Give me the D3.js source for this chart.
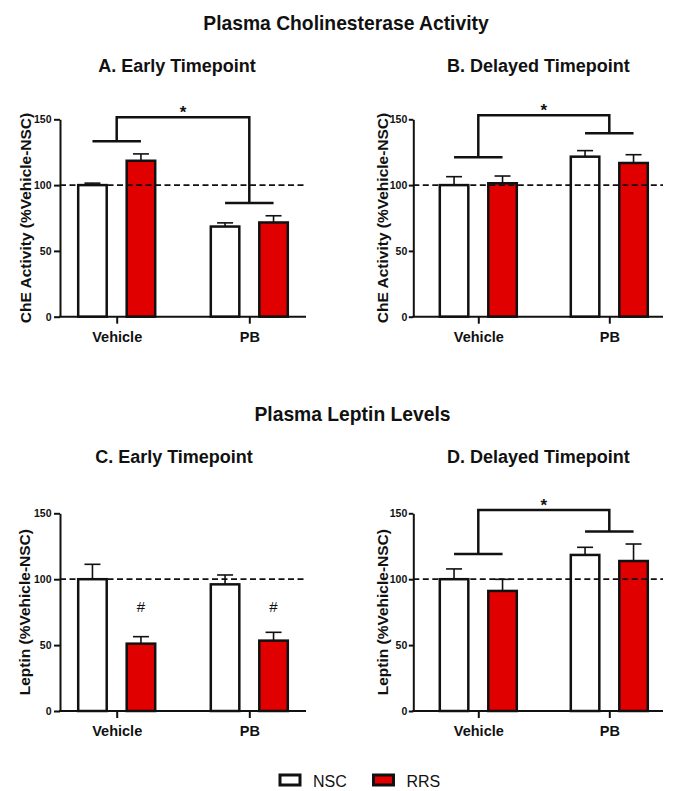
<!DOCTYPE html>
<html><head><meta charset="utf-8">
<script src="https://cdn.jsdelivr.net/npm/d3@7"></script>
<style>
body{margin:0;background:#fff}
text{font-family:"Liberation Sans",Arial,Helvetica,sans-serif;fill:#111}
</style>
</head><body>
<svg id="chart" width="674" height="791"></svg>
<script>
// ---------- data ----------
const categories = ["Vehicle", "PB"];
const groups = ["NSC", "RRS"];
const yTicks = [0, 50, 100, 150];
const refValue = 100;
const sectionTitles = ["Plasma Cholinesterase Activity", "Plasma Leptin Levels"];
const panelTitles = ["A. Early Timepoint", "B. Delayed Timepoint", "C. Early Timepoint", "D. Delayed Timepoint"];
const yLabels = ["ChE Activity (%Vehicle-NSC)", "ChE Activity (%Vehicle-NSC)", "Leptin (%Vehicle-NSC)", "Leptin (%Vehicle-NSC)"];
const legendLabels = ["NSC", "RRS"];

// means and SEM (upper error) per category [Vehicle, PB]
const cheEarlyNSC = [100, 68.5],   cheEarlyNSCsem = [1.5, 2.8];
const cheEarlyRRS = [118.5, 71.6], cheEarlyRRSsem = [5.2, 5.1];
const cheDelayNSC = [100, 121.6],  cheDelayNSCsem = [6.4, 4.6];
const cheDelayRRS = [101.4, 116.8],cheDelayRRSsem = [5.5, 6.3];
const lepEarlyNSC = [100, 96.1],   lepEarlyNSCsem = [11.3, 7.1];
const lepEarlyRRS = [51.1, 53.4],  lepEarlyRRSsem = [5.3, 6.3];
const lepDelayNSC = [100, 118.4],  lepDelayNSCsem = [7.8, 5.8];
const lepDelayRRS = [91.1, 113.8], lepDelayRRSsem = [8.8, 12.9];

// significance brackets: group-level heights [Vehicle, PB], top bar height, symbol
const bracketA = {levels: [133.3, 86.4], top: 151.5, mark: "*"};
const bracketB = {levels: [121.1, 139.4], top: 153, mark: "*"};
const bracketD = {levels: [119.1, 136.1], top: 152.5, mark: "*"};
// "#" marks above RRS bars in panel C
const hashC = {group: "RRS", cats: ["Vehicle", "PB"], value: 75, mark: "#"};

// ---------- layout ----------
const colors = {NSC: "#ffffff", RRS: "#e00000"};
const panels = [
  {title: panelTitles[0], ylab: yLabels[0], nsc: cheEarlyNSC, nscSem: cheEarlyNSCsem, rrs: cheEarlyRRS, rrsSem: cheEarlyRRSsem, bracket: bracketA, hash: null,
   x0: 60, x1: 306, c0: 116.7, c1: 249.3, yTop: 119.3, yBot: 316.7, tx: 177, ty: 71.5, lx: 25, tk: 6, tp: 2.5},
  {title: panelTitles[1], ylab: yLabels[1], nsc: cheDelayNSC, nscSem: cheDelayNSCsem, rrs: cheDelayRRS, rrsSem: cheDelayRRSsem, bracket: bracketB, hash: null,
   x0: 413.3, x1: 663, c0: 478.3, c1: 609.3, yTop: 119.3, yBot: 316.7, tx: 538.3, ty: 71.5, lx: 382.5, tk: 4.5, tp: 1.5},
  {title: panelTitles[2], ylab: yLabels[2], nsc: lepEarlyNSC, nscSem: lepEarlyNSCsem, rrs: lepEarlyRRS, rrsSem: lepEarlyRRSsem, bracket: null, hash: hashC,
   x0: 60, x1: 306, c0: 116.7, c1: 249.3, yTop: 513.3, yBot: 711, tx: 174, ty: 463.3, lx: 24.5, tk: 6, tp: 2.5},
  {title: panelTitles[3], ylab: yLabels[3], nsc: lepDelayNSC, nscSem: lepDelayNSCsem, rrs: lepDelayRRS, rrsSem: lepDelayRRSsem, bracket: bracketD, hash: null,
   x0: 413.3, x1: 663, c0: 478.3, c1: 609.3, yTop: 513.3, yBot: 711, tx: 538.3, ty: 463.3, lx: 382.5, tk: 4.5, tp: 1.5}
];

const svg = d3.select("#chart");

// section titles
svg.append("text").attr("x", 346).attr("y", 30).attr("text-anchor", "middle")
  .style("font-size", "19.3px").style("font-weight", "bold").text(sectionTitles[0]);
svg.append("text").attr("x", 352.5).attr("y", 420.5).attr("text-anchor", "middle")
  .style("font-size", "19.3px").style("font-weight", "bold").text(sectionTitles[1]);

panels.forEach(p => {
  const g = svg.append("g");
  const y = d3.scaleLinear().domain([0, 150]).range([p.yBot, p.yTop]);
  const x = d3.scalePoint().domain(categories).range([p.c0, p.c1]);
  const sub = d3.scaleBand().domain(groups).range([-38.5, 38.5]).paddingInner(0.412);

  const rows = [];
  categories.forEach((c, i) => {
    rows.push({cat: c, group: "NSC", v: p.nsc[i], e: p.nscSem[i]});
    rows.push({cat: c, group: "RRS", v: p.rrs[i], e: p.rrsSem[i]});
  });
  const bx = d => x(d.cat) + sub(d.group);
  const cx = d => bx(d) + sub.bandwidth() / 2;

  // title
  g.append("text").attr("x", p.tx).attr("y", p.ty).attr("text-anchor", "middle")
    .style("font-size", "18px").style("font-weight", "bold").text(p.title);

  // y label
  g.append("text")
    .attr("transform", `translate(${p.lx},${(p.yTop + p.yBot) / 2}) rotate(-90)`)
    .attr("text-anchor", "middle").attr("dy", "0.36em")
    .style("font-size", "15.5px").style("font-weight", "bold").text(p.ylab);

  // error bars
  const eb = g.append("g").attr("stroke", "#111").attr("stroke-width", 1.6).attr("fill", "none");
  eb.selectAll("line.v").data(rows).join("line")
    .attr("x1", cx).attr("x2", cx).attr("y1", d => y(d.v)).attr("y2", d => y(d.v + d.e));
  eb.selectAll("line.c").data(rows).join("line")
    .attr("x1", d => cx(d) - 8).attr("x2", d => cx(d) + 8)
    .attr("y1", d => y(d.v + d.e)).attr("y2", d => y(d.v + d.e));

  // bars
  g.selectAll("rect.bar").data(rows).join("rect").attr("class", "bar")
    .attr("x", bx).attr("width", sub.bandwidth())
    .attr("y", d => y(d.v)).attr("height", d => p.yBot - y(d.v))
    .attr("fill", d => colors[d.group]).attr("stroke", "#111").attr("stroke-width", 2.5);

  // reference dashed line
  g.append("line").attr("x1", p.x0).attr("x2", p.x1).attr("y1", y(refValue)).attr("y2", y(refValue))
    .attr("stroke", "#111").attr("stroke-width", 1.8).attr("stroke-dasharray", "6,3.5");

  // y axis
  const ya = g.append("g").attr("transform", `translate(${p.x0},0)`)
    .call(d3.axisLeft(y).tickValues(yTicks).tickSize(p.tk).tickSizeOuter(0).tickPadding(p.tp));
  ya.select(".domain").attr("stroke", "#111").attr("stroke-width", 2);
  ya.selectAll(".tick line").attr("stroke", "#111").attr("stroke-width", 2);
  ya.selectAll(".tick text").style("font-size", "10.5px").style("font-weight", "bold")
    .style("font-family", "'Liberation Sans',Arial,sans-serif").attr("fill", "#111");

  // x axis
  const xa = g.append("g").attr("transform", `translate(0,${p.yBot})`)
    .call(d3.axisBottom(x).tickSize(7).tickSizeOuter(0));
  xa.select(".domain").remove();
  xa.selectAll(".tick line").attr("stroke", "#111").attr("stroke-width", 2);
  xa.selectAll(".tick text").attr("y", 25).attr("dy", 0)
    .style("font-size", "14.5px").style("font-weight", "bold")
    .style("font-family", "'Liberation Sans',Arial,sans-serif").attr("fill", "#111");
  g.append("line").attr("x1", p.x0 - 1).attr("x2", p.x1).attr("y1", p.yBot).attr("y2", p.yBot)
    .attr("stroke", "#111").attr("stroke-width", 2);

  // brackets
  if (p.bracket) {
    const b = p.bracket;
    const bg = g.append("g").attr("stroke", "#111").attr("stroke-width", 2.5).attr("fill", "none");
    categories.forEach((c, i) => {
      const xl = x(c) + sub("NSC") + sub.bandwidth() / 2;
      const xr = x(c) + sub("RRS") + sub.bandwidth() / 2;
      bg.append("line").attr("x1", xl).attr("x2", xr).attr("y1", y(b.levels[i])).attr("y2", y(b.levels[i]));
    });
    const path = d3.path();
    path.moveTo(x(categories[0]), y(b.levels[0]));
    path.lineTo(x(categories[0]), y(b.top));
    path.lineTo(x(categories[1]), y(b.top));
    path.lineTo(x(categories[1]), y(b.levels[1]));
    bg.append("path").attr("d", path.toString()).attr("stroke-linejoin", "miter");
    g.append("text").attr("x", (x(categories[0]) + x(categories[1])) / 2).attr("y", y(b.top) + 1)
      .attr("text-anchor", "middle").style("font-size", "17px").style("font-weight", "bold").text(b.mark);
  }
  if (p.hash) {
    p.hash.cats.forEach(c => {
      g.append("text").attr("x", x(c) + sub(p.hash.group) + sub.bandwidth() / 2).attr("y", y(p.hash.value))
        .attr("text-anchor", "middle").style("font-size", "15px").text(p.hash.mark);
    });
  }
});

// legend
const legX = [280, 373.5];
legendLabels.forEach((l, i) => {
  svg.append("rect").attr("x", legX[i]).attr("y", 775).attr("width", 20).attr("height", 10)
    .attr("fill", colors[l]).attr("stroke", "#111").attr("stroke-width", 3);
  svg.append("text").attr("x", legX[i] + 33).attr("y", 786.5)
    .style("font-size", "16px").text(l);
});
</script>
</body></html>
